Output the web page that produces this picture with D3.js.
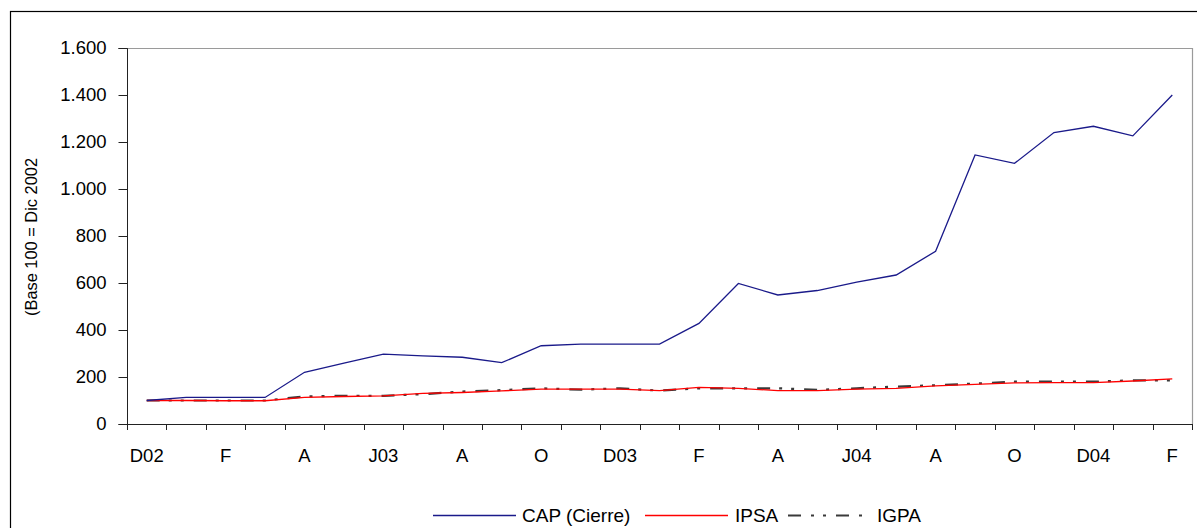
<!DOCTYPE html>
<html>
<head>
<meta charset="utf-8">
<script src="https://cdn.jsdelivr.net/npm/d3@7"></script>
<style>
  html, body { margin: 0; padding: 0; background: #fff; }
  svg { display: block; font-family: "Liberation Sans", Arial, sans-serif; }
</style>
</head>
<body>
<svg id="chart" width="1197" height="528"></svg>
<script>
// ---- Data ----
const months = ["D02","E03","F03","M03","A03","M03b","J03","J03b","A03b","S03","O03","N03",
                "D03","E04","F04","M04","A04","M04b","J04","J04b","A04b","S04","O04","N04",
                "D04","E05","F05"];
const tickLabels = ["D02","","F","","A","","J03","","A","","O","","D03","","F","","A","","J04","","A","","O","","D04","","F"];
const cap  = [100, 113, 113, 113, 220, 259, 297, 290, 284, 261, 333, 340, 340, 340, 428, 598, 549, 568, 604, 634, 735, 1145, 1109, 1240, 1267, 1226, 1400];
const ipsa = [100, 100,  99,  99, 113, 117, 120, 130, 134, 141, 148, 148, 148, 142, 156, 152, 142, 142, 148, 152, 162, 169, 175, 176, 176, 183, 192];
const igpa = [100, 100, 100, 100, 117, 120, 120, 127, 138, 144, 152, 146, 152, 142, 152, 152, 152, 145, 152, 159, 165, 172, 180, 180, 180, 186, 186];
const yTicks = [0, 200, 400, 600, 800, 1000, 1200, 1400, 1600];
const seriesNames = ["CAP (Cierre)", "IPSA", "IGPA"];

(function () {
// ---- Layout ----
const svg = d3.select("#chart");
const pLeft = 127, pRight = 1192, pTop = 48, pBottom = 424;
const fontSize = 18.5;

const x = d3.scaleBand().domain(months).range([pLeft, pRight]).padding(0);
const y = d3.scaleLinear().domain([0, 1600]).range([pBottom, pTop]);
const locale = d3.formatLocale({decimal: ",", thousands: ".", grouping: [3], currency: ["$", ""]});
const fmt = locale.format(",");

// outer frame
svg.append("rect").attr("x", 10.5).attr("y", 11.5).attr("width", 1200).attr("height", 530)
  .attr("fill", "none").attr("stroke", "#000").attr("stroke-width", 1.2);

// plot border (top & right)
svg.append("path")
  .attr("d", `M${pLeft},${pTop + 0.5}H${pRight + 0.5}V${pBottom}`)
  .attr("fill", "none").attr("stroke", "#9a9a9a").attr("stroke-width", 1.2);

// Y axis
const yAxis = d3.axisLeft(y).tickValues(yTicks).tickSize(9).tickPadding(12).tickFormat(d => fmt(d));
const gy = svg.append("g").attr("transform", `translate(${pLeft + 0.5},0)`).call(yAxis);
gy.select(".domain").attr("stroke", "#222").attr("d", `M-9,${pTop + 0.5}H0V${pBottom + 0.5}H-9`);
gy.selectAll(".tick line").attr("stroke", "#222");
gy.selectAll(".tick text").attr("font-size", fontSize).attr("fill", "#000")
  .attr("font-family", "Liberation Sans, Arial, sans-serif");

// X axis: ticks at boundaries
const boundaries = months.map(m => x(m)).concat([pRight]);
const gx = svg.append("g");
gx.append("line").attr("x1", pLeft).attr("x2", pRight + 0.5).attr("y1", pBottom + 0.5).attr("y2", pBottom + 0.5)
  .attr("stroke", "#222");
gx.selectAll("line.tk").data(boundaries).join("line").attr("class", "tk")
  .attr("x1", d => Math.round(d) + 0.5).attr("x2", d => Math.round(d) + 0.5)
  .attr("y1", pBottom).attr("y2", pBottom + 6).attr("stroke", "#222");
gx.selectAll("text").data(months).join("text")
  .attr("x", d => x(d) + x.bandwidth() / 2)
  .attr("y", 462)
  .attr("text-anchor", "middle")
  .attr("font-size", fontSize)
  .attr("fill", "#000")
  .text((d, i) => tickLabels[i]);

// Y label
svg.append("text")
  .attr("transform", "translate(37,237) rotate(-90)")
  .attr("text-anchor", "middle")
  .attr("font-size", 17)
  .attr("textLength", 158)
  .attr("lengthAdjust", "spacingAndGlyphs")
  .attr("fill", "#000")
  .text("(Base 100 = Dic 2002");

// Lines
const line = d3.line().x((d, i) => x(months[i]) + x.bandwidth() / 2).y(d => y(d));
const styles = [
  {data: cap,  color: "#1a1a8a", width: 1.3, dash: null},
  {data: ipsa, color: "#ff0000", width: 1.3, dash: null},
  {data: igpa, color: "#3a3a3a", width: 2.2, dash: "13,9,3,9,3,10"}
];
[styles[2], styles[1], styles[0]].forEach(s => {
  svg.append("path").datum(s.data).attr("d", line)
    .attr("fill", "none").attr("stroke", s.color).attr("stroke-width", s.width)
    .attr("stroke-dasharray", s.dash);
});

// Legend
const legY = 515;
const legLayout = [
  {x0: 433, len: 83, gap: 6},
  {x0: 645, len: 83, gap: 7},
  {x0: 788, len: 75, gap: 14}
];
seriesNames.forEach((name, i) => {
  const s = styles[i], L = legLayout[i];
  svg.append("line").attr("x1", L.x0).attr("x2", L.x0 + L.len).attr("y1", legY + 0.5).attr("y2", legY + 0.5)
    .attr("stroke", s.color).attr("stroke-width", i === 2 ? 2 : 1.3)
    .attr("stroke-dasharray", i === 2 ? "13,10,3,9,3,10" : null);
  svg.append("text").attr("x", L.x0 + L.len + L.gap).attr("y", legY + 6.5)
    .attr("font-size", 19).attr("fill", "#000").text(name);
});
})();
</script>
</body>
</html>
